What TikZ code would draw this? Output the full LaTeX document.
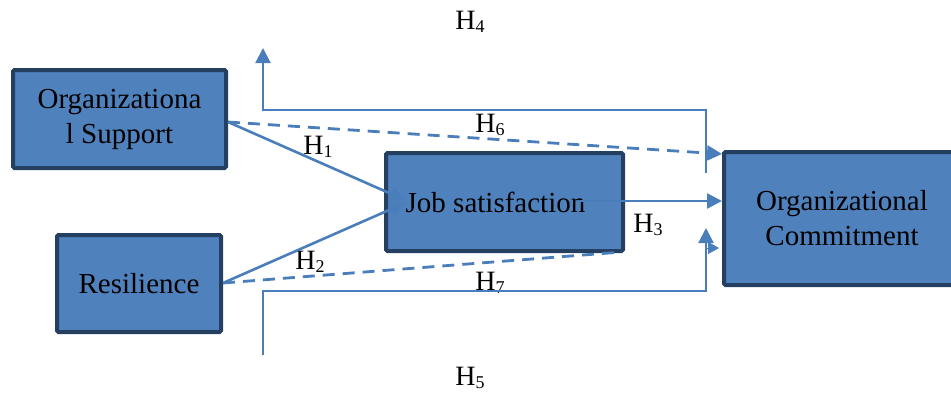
\documentclass[tikz,border=0pt]{standalone}
\usepackage{fontspec}
\setmainfont{Liberation Serif}
\usetikzlibrary{arrows.meta}
\definecolor{boxfill}{HTML}{4F81BD}
\definecolor{boxline}{HTML}{243F60}
\definecolor{conn}{HTML}{4A7EBB}
\newcommand{\hlab}[1]{H\raisebox{-3pt}{\fontsize{18}{18}\selectfont #1}}
\tikzset{
  varbox/.style={draw=boxline, fill=boxfill, line width=4pt, rounded corners=1.5pt,
    inner sep=0pt, align=center, font=\fontsize{29}{35}\selectfont},
  hyp/.style={font=\fontsize{28}{30}\selectfont, inner sep=0pt},
  tip/.style={-{Triangle[length=15pt,width=15pt]}},
  link/.style={draw=conn, line width=2.6pt, tip},
  dlink/.style={draw=conn, line width=2.8pt, dash pattern=on 12pt off 8pt},
  frame/.style={draw=conn, line width=2.2pt},
}
\begin{document}
\begin{tikzpicture}[x=1pt,y=-1pt]
\useasboundingbox (0,0) rectangle (951,394);
% boxes
\node[varbox, minimum width=213pt, minimum height=98pt] (os) at (119.5,119) {Organizationa\\l Support};
\node[varbox, minimum width=164pt, minimum height=97pt] (res) at (139,283.5) {Resilience};
\node[varbox, minimum width=237pt, minimum height=98pt] (js) at (504.5,202) {Job satisfaction\hspace{18pt}};
\node[varbox, minimum width=236pt, minimum height=133pt] (oc) at (842,218.5) {Organizational\\Commitment};
% coordinates
\coordinate (osR) at (228,122);
\coordinate (resR) at (223,283);
\coordinate (jsIn1) at (405,200);
\coordinate (jsIn2) at (405,203);
\coordinate (jsOut) at (580,201);
\coordinate (ocH6) at (722,154);
\coordinate (ocH3) at (722,201);
\coordinate (h7end) at (622,252);
\coordinate (h4a) at (706,173);
\coordinate (h4b) at (706,110);
\coordinate (h4c) at (263,110);
\coordinate (h4d) at (263,48);
\coordinate (h5a) at (263,355);
\coordinate (h5b) at (263,291);
\coordinate (h5c) at (706,291);
\coordinate (h5d) at (706,228);
\coordinate (stubA) at (706,248);
\coordinate (stubB) at (719,248);
% labels
\node[hyp] (l4) at (470,22) {\hlab{4}};
\node[hyp] (l6) at (490,125) {\hlab{6}};
\node[hyp] (l1) at (318,147) {\hlab{1}};
\node[hyp] (l3) at (648,225) {\hlab{3}};
\node[hyp] (l2) at (310,262) {\hlab{2}};
\node[hyp] (l7) at (490,283) {\hlab{7}};
\node[hyp] (l5) at (470,378) {\hlab{5}};
% connectors
\draw[dlink, tip] (osR) -- (ocH6);
\draw[dlink] (resR) -- (h7end);
\draw[link] (osR) -- (jsIn1);
\draw[link] (resR) -- (jsIn2);
\draw[link] (jsOut) -- (ocH3);
\draw[frame, tip] (h4a) -- (h4b) -- (h4c) -- (h4d);
\draw[frame, tip] (h5a) -- (h5b) -- (h5c) -- (h5d);
\draw[draw=conn, line width=1pt, -{Triangle[length=11pt,width=12pt]}] (stubA) -- (stubB);
\end{tikzpicture}
\end{document}
